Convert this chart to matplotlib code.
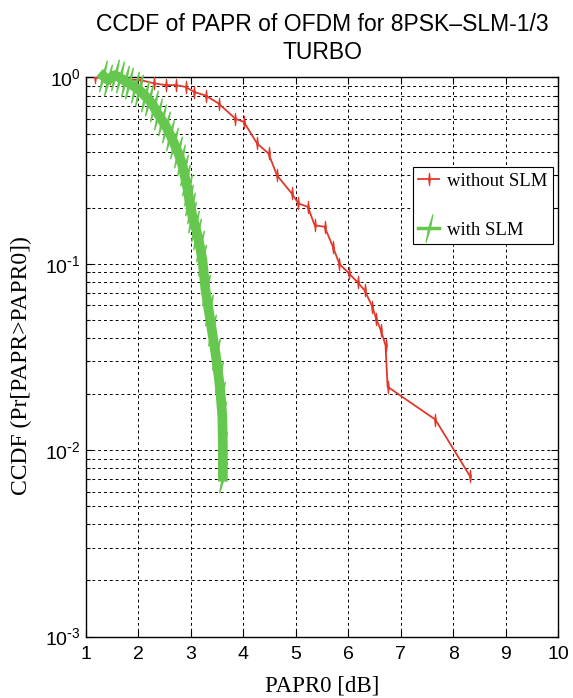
import matplotlib
matplotlib.use("Agg")
import matplotlib.pyplot as plt
from matplotlib.path import Path
from matplotlib.lines import Line2D
from matplotlib.ticker import LogLocator, NullFormatter, FixedLocator

# values
papr_no_slm = [1.17, 1.45, 2.05, 2.30, 2.52, 2.71, 2.90, 3.06, 3.28, 3.53, 3.85,
               4.01, 4.26, 4.48, 4.64, 4.92, 5.05, 5.23, 5.36, 5.55, 5.71, 5.83,
               6.01, 6.18, 6.31, 6.46, 6.53, 6.62, 6.71, 6.75, 7.66, 8.32]
ccdf_no_slm = [1.0, 0.99, 0.967, 0.93, 0.91, 0.91, 0.89, 0.837, 0.80, 0.725, 0.60,
               0.578, 0.443, 0.391, 0.299, 0.239, 0.211, 0.202, 0.161, 0.158, 0.123, 0.100,
               0.089, 0.0795, 0.0722, 0.0588, 0.0509, 0.0441, 0.0366, 0.0219, 0.0146, 0.00726]

papr_slm = [1.33, 1.42, 1.55, 1.64, 1.74, 1.83, 1.93, 2.02, 2.12, 2.21, 2.29, 2.37,
            2.45, 2.53, 2.61, 2.68, 2.75, 2.81, 2.86, 2.90, 2.94, 2.97, 3.00, 3.03,
            3.08, 3.12, 3.17, 3.22, 3.28, 3.34, 3.40, 3.47, 3.53, 3.57, 3.60, 3.61, 3.61]
ccdf_slm = [1.02, 0.97, 1.03, 1.0, 0.96, 0.93, 0.89, 0.855, 0.80, 0.755, 0.70, 0.64,
            0.59, 0.543, 0.49, 0.443, 0.40, 0.36, 0.32, 0.281, 0.25, 0.22, 0.20, 0.179,
            0.16, 0.145, 0.125, 0.105, 0.072, 0.0565, 0.0441, 0.033, 0.0248, 0.0194,
            0.0151, 0.0104, 0.0072]

x_ticks = [1, 2, 3, 4, 5, 6, 7, 8, 9, 10]
y_ticks = [1e-3, 1e-2, 1e-1, 1e0]
y_labels = [r"$10^{\text{-}3}$", r"$10^{\text{-}2}$", r"$10^{\text{-}1}$", "$10^{0}$"]

red = "#e0392b"
green = "#66c74f"

plt.rcParams["font.family"] = ["Liberation Sans", "DejaVu Sans"]
plt.rcParams["mathtext.default"] = "regular"

# thin spikes like the original markers
red_mark = Path([(0, 1), (0.13, 0), (0, -1), (-0.13, 0), (0, 1)],
                [Path.MOVETO, Path.LINETO, Path.LINETO, Path.LINETO, Path.CLOSEPOLY])
green_mark = Path([(0.25, 1), (0.07, 0), (-0.25, -1), (-0.07, 0), (0.25, 1)],
                  [Path.MOVETO, Path.LINETO, Path.LINETO, Path.LINETO, Path.CLOSEPOLY])

fig = plt.figure(figsize=(5.73, 6.98), dpi=100)
ax = fig.add_axes([0.150, 0.088, 0.824, 0.801])

ax.semilogy(papr_no_slm, ccdf_no_slm, color=red, lw=1.3, marker=red_mark,
            markersize=9, markeredgewidth=0.8, zorder=3)
ax.semilogy(papr_slm, ccdf_slm, color=green, lw=7, marker=green_mark,
            markersize=22, markeredgewidth=1.0, zorder=3, clip_on=False)

ax.set_xlim(1, 10)
ax.set_ylim(1e-3, 1)
ax.xaxis.set_major_locator(FixedLocator(x_ticks))
ax.set_xticklabels([str(t) for t in x_ticks])
ax.set_yticks(y_ticks)
ax.set_yticklabels(y_labels)
ax.yaxis.set_minor_locator(LogLocator(base=10, subs=range(2, 10)))
ax.yaxis.set_minor_formatter(NullFormatter())

ax.tick_params(axis="both", which="both", direction="in", top=True, right=True,
               labelsize=14, width=0.8)
ax.tick_params(which="major", length=5)
ax.tick_params(which="minor", length=3)
ax.tick_params(axis="x", pad=7)

ax.grid(True, which="major", axis="both", color="black", ls=(0, (3, 3)), lw=0.7)
ax.grid(True, which="minor", axis="y", color="black", ls=(0, (3, 3)), lw=0.7)
for s in ax.spines.values():
    s.set_linewidth(1.0)

ax.set_xlabel("PAPR0 [dB]", family=["Liberation Serif"], fontsize=16.5, labelpad=9)
ax.set_ylabel("CCDF (Pr[PAPR>PAPR0])", family=["Liberation Serif"], fontsize=17)
ax.yaxis.set_label_coords(-0.115, 0.485)
ax.set_title("CCDF of PAPR of OFDM for 8PSK\u2013SLM-1/3\nTURBO", fontsize=16.5,
             pad=13, linespacing=1.3)

handles = [Line2D([], [], color=red, lw=1.3, marker=red_mark, markersize=9,
                  markeredgewidth=0.8),
           Line2D([], [], color=green, lw=2.5, marker=green_mark, markersize=20,
                  markeredgewidth=0.8)]
leg = ax.legend(handles, ["without SLM", "with SLM"], loc="upper right",
                bbox_to_anchor=(0.99, 0.84),
                prop={"family": "Liberation Serif", "size": 13.5},
                frameon=True, fancybox=False, edgecolor="black", framealpha=1,
                borderpad=0.3, labelspacing=1.7, handlelength=1.1,
                handletextpad=0.45, borderaxespad=0)
leg.get_frame().set_linewidth(0.8)

fig.savefig("out.png", dpi=100)
